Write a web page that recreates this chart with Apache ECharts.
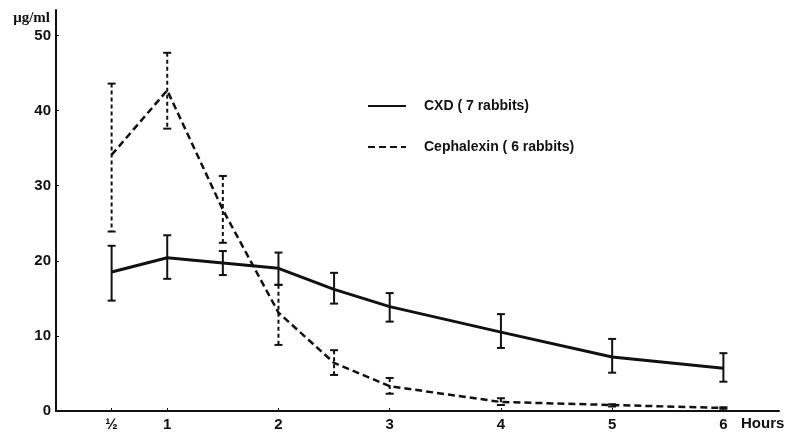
<!doctype html>
<html>
<head>
    <meta charset="utf-8">
    <title>CXD vs Cephalexin</title>
    <style>
        html, body { margin: 0; padding: 0; background: #fff; }
        #chart { width: 795px; height: 436px; }
    </style>
</head>
<body>
<div id="chart"></div>
<script src="https://cdn.jsdelivr.net/npm/echarts@6/dist/echarts.min.js"></script>
<script>
    // data (hours, µg/ml)
    var hours = [0.5, 1, 1.5, 2, 2.5, 3, 4, 5, 6];
    var cxdMean = [18.5, 20.4, 19.7, 19.0, 16.2, 13.9, 10.5, 7.2, 5.7];
    var cxdHigh = [22.0, 23.4, 21.3, 21.1, 18.4, 15.7, 12.9, 9.6, 7.7];
    var cxdLow  = [14.7, 17.6, 18.1, 16.8, 14.3, 11.9, 8.4, 5.1, 3.9];
    var cepMean = [34.1, 42.7, 26.8, 13.1, 6.4, 3.3, 1.2, 0.8, 0.4];
    var cepHigh = [43.6, 47.7, 31.3, 16.8, 8.1, 4.4, 1.7, 0.9, 0.5];
    var cepLow  = [23.9, 37.6, 22.4, 8.8, 4.8, 2.3, 0.8, 0.6, 0.3];
    var xTicks = [0.5, 1, 2, 3, 4, 5, 6];
    var xTickLabels = ['½', '1', '2', '3', '4', '5', '6'];

    var cxdName = 'CXD ( 7 rabbits)';
    var cepName = 'Cephalexin ( 6 rabbits)';

    function pairs(xs, ys) {
        var out = [];
        for (var i = 0; i < xs.length; i++) out.push([xs[i], ys[i]]);
        return out;
    }
    function bars(xs, lo, hi) {
        var out = [];
        for (var i = 0; i < xs.length; i++) out.push([xs[i], lo[i], hi[i]]);
        return out;
    }
    // error bar with small caps
    function errorBar(dash) {
        return function (params, api) {
            var top = api.coord([api.value(0), api.value(2)]);
            var bot = api.coord([api.value(0), api.value(1)]);
            var style = { stroke: '#111', lineWidth: 2, lineDash: dash, fill: null };
            var capStyle = { stroke: '#111', lineWidth: 2 };
            return {
                type: 'group',
                children: [
                    { type: 'line', shape: { x1: top[0], y1: top[1], x2: bot[0], y2: bot[1] }, style: style },
                    { type: 'line', shape: { x1: top[0] - 4, y1: top[1], x2: top[0] + 4, y2: top[1] }, style: capStyle },
                    { type: 'line', shape: { x1: bot[0] - 4, y1: bot[1], x2: bot[0] + 4, y2: bot[1] }, style: capStyle }
                ]
            };
        };
    }

    var myChart = echarts.init(document.getElementById('chart'));
    var labelFont = { color: '#111', fontFamily: 'Liberation Sans', fontWeight: 'bold', fontSize: 15 };
    var option = {
        backgroundColor: '#fff',
        animation: false,
        grid: { left: 56, right: 16, top: 10, bottom: 25, outerBoundsMode: 'none', containLabel: false },
        legend: {
            orient: 'vertical',
            left: 362,
            top: 94,
            itemWidth: 38,
            itemHeight: 14,
            itemGap: 27,
            itemStyle: { opacity: 0 },
            data: [cxdName, cepName],
            textStyle: { color: '#111', fontFamily: 'Liberation Sans', fontSize: 14, fontWeight: 'bold', padding: [0, 0, 0, 13] }
        },
        xAxis: {
            type: 'value',
            min: 0,
            max: 6.5,
            name: 'Hours',
            nameLocation: 'end',
            nameGap: -38,
            nameTextStyle: { color: '#111', fontFamily: 'Liberation Sans', fontWeight: 'bold', fontSize: 15, verticalAlign: 'top', padding: [5, 0, 0, 0] },
            splitLine: { show: false },
            axisLine: { lineStyle: { color: '#111', width: 2 } },
            axisTick: { inside: true, length: 3, customValues: xTicks, lineStyle: { color: '#111' } },
            axisLabel: {
                customValues: xTicks,
                margin: 6,
                formatter: function (v) {
                    var i = xTicks.indexOf(v);
                    return i >= 0 ? xTickLabels[i] : '';
                },
                color: labelFont.color, fontFamily: labelFont.fontFamily, fontWeight: labelFont.fontWeight, fontSize: labelFont.fontSize
            }
        },
        yAxis: {
            type: 'value',
            min: 0,
            max: 53.4,
            interval: 10,
            name: 'μg/ml',
            nameLocation: 'end',
            nameGap: -1,
            nameTextStyle: { color: '#111', fontFamily: 'Liberation Serif', fontWeight: 'bold', fontSize: 15, align: 'right', verticalAlign: 'top', padding: [0, 6, 0, 0] },
            splitLine: { show: false },
            axisLine: { show: true, lineStyle: { color: '#111', width: 2 } },
            axisTick: { show: true, inside: true, length: 3, lineStyle: { color: '#111' } },
            axisLabel: {
                margin: 5,
                showMaxLabel: false,
                color: labelFont.color, fontFamily: labelFont.fontFamily, fontWeight: labelFont.fontWeight, fontSize: labelFont.fontSize
            }
        },
        series: [
            {
                name: cxdName,
                type: 'line',
                data: pairs(hours, cxdMean),
                symbol: 'none',
                lineStyle: { color: '#111', width: 3 },
                itemStyle: { color: '#111' },
                z: 3
            },
            {
                name: cepName,
                type: 'line',
                data: pairs(hours, cepMean),
                symbol: 'none',
                lineStyle: { color: '#111', width: 2.5, type: [7, 4] },
                itemStyle: { color: '#111' },
                z: 3
            },
            {
                type: 'custom',
                data: bars(hours, cxdLow, cxdHigh),
                renderItem: errorBar(null),
                encode: { x: 0, y: [1, 2] },
                z: 4
            },
            {
                type: 'custom',
                data: bars(hours, cepLow, cepHigh),
                renderItem: errorBar([4, 3]),
                encode: { x: 0, y: [1, 2] },
                z: 4
            }
        ]
    };
    myChart.setOption(option);
</script>
</body>
</html>
